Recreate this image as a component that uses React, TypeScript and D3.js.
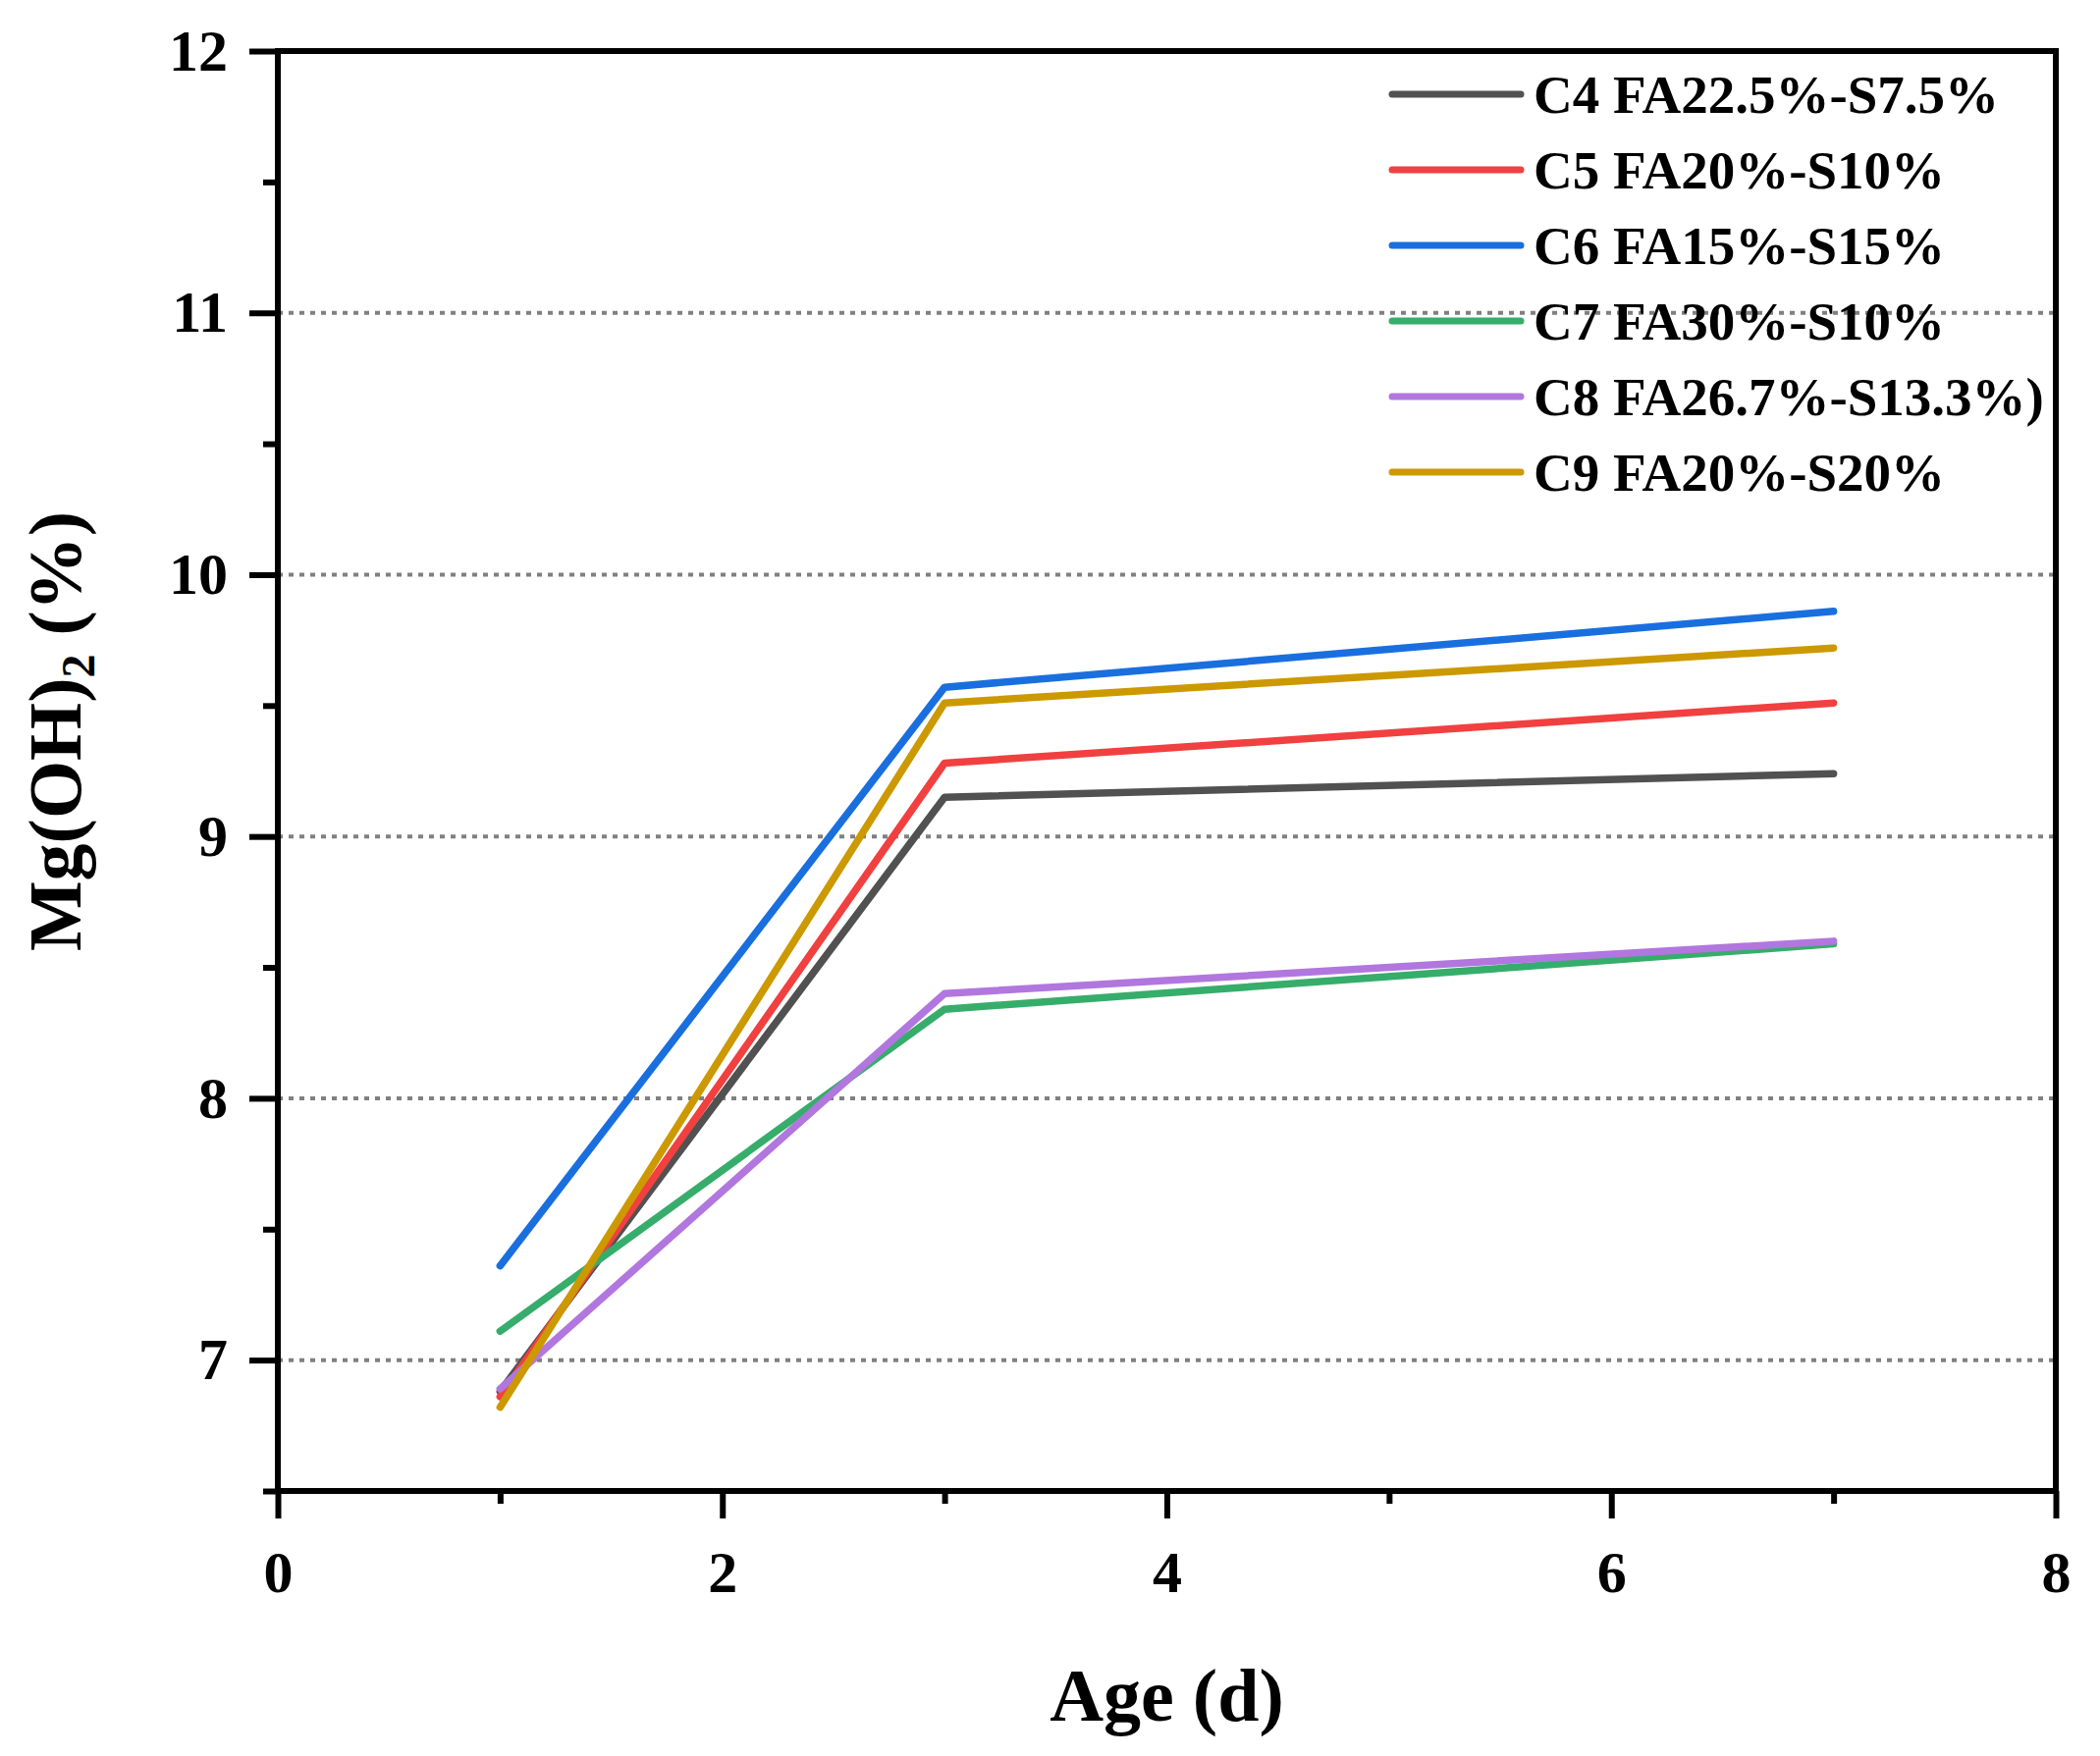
import { useEffect, useRef } from 'react'
import * as d3 from 'd3'

const ages = [1, 3, 7]

const c4 = [6.88, 9.15, 9.24]
const c5 = [6.86, 9.28, 9.51]
const c6 = [7.36, 9.57, 9.86]
const c7 = [7.11, 8.34, 8.59]
const c8 = [6.89, 8.4, 8.6]
const c9 = [6.82, 9.51, 9.72]

const seriesNames = [
    'C4 FA22.5%-S7.5%',
    'C5 FA20%-S10%',
    'C6 FA15%-S15%',
    'C7 FA30%-S10%',
    'C8 FA26.7%-S13.3%)',
    'C9 FA20%-S20%',
]
const seriesValues = [c4, c5, c6, c7, c8, c9]
const colors = ['#515151', '#F14040', '#1A6FDF', '#37AD6B', '#B177DE', '#CC9900']

const xMajor = [0, 2, 4, 6, 8]
const xMinor = [1, 3, 5, 7]
const yMajor = [7, 8, 9, 10, 11, 12]
const yMinor = [6.5, 7.5, 8.5, 9.5, 10.5, 11.5]
const gridValues = [7, 8, 9, 10, 11]

export default function App() {
    const svgRef = useRef<SVGSVGElement>(null)

    useEffect(() => {
        if (!svgRef.current) return
        const width = 2139
        const height = 1789
        const margin = { top: 52, right: 45, bottom: 270, left: 283 }
        const font = '"Liberation Serif", "Times New Roman", serif'

        const svg = d3.select(svgRef.current)
        svg.attr('width', width).attr('height', height)
        svg.selectAll('*').remove()

        svg.append('rect').attr('width', width).attr('height', height).attr('fill', '#fff')

        const x = d3.scaleLinear().domain([0, 8]).range([margin.left, width - margin.right])
        const y = d3.scaleLinear().domain([6.5, 12]).range([height - margin.bottom, margin.top])

        // dotted grid
        svg.append('g')
            .selectAll('line')
            .data(gridValues)
            .enter()
            .append('line')
            .attr('x1', x(0))
            .attr('x2', x(8))
            .attr('y1', d => y(d))
            .attr('y2', d => y(d))
            .attr('stroke', '#808080')
            .attr('stroke-width', 4)
            .attr('stroke-dasharray', '5,6')

        // minor ticks first, majors on top
        const xMinorAxis = d3.axisBottom(x).tickValues(xMinor).tickSize(13).tickFormat(() => '')
        const yMinorAxis = d3.axisLeft(y).tickValues(yMinor).tickSize(15).tickFormat(() => '')
        const xAxis = d3.axisBottom(x).tickValues(xMajor).tickSize(28).tickPadding(32).tickFormat(d3.format('d'))
        const yAxis = d3.axisLeft(y).tickValues(yMajor).tickSize(29).tickPadding(22).tickFormat(d3.format('d'))

        const gx0 = svg.append('g').attr('transform', `translate(0,${y(6.5)})`).call(xMinorAxis)
        const gy0 = svg.append('g').attr('transform', `translate(${x(0)},0)`).call(yMinorAxis)
        const gx = svg.append('g').attr('transform', `translate(0,${y(6.5)})`).call(xAxis)
        const gy = svg.append('g').attr('transform', `translate(${x(0)},0)`).call(yAxis)

        for (const g of [gx0, gy0, gx, gy]) {
            g.select('.domain').remove()
            g.selectAll('.tick line').attr('stroke', '#000').attr('stroke-width', 6)
            g.selectAll('text')
                .attr('font-family', font)
                .attr('font-weight', 'bold')
                .attr('font-size', 60)
                .attr('fill', '#000')
        }

        // frame
        svg.append('rect')
            .attr('x', x(0))
            .attr('y', y(12))
            .attr('width', x(8) - x(0))
            .attr('height', y(6.5) - y(12))
            .attr('fill', 'none')
            .attr('stroke', '#000')
            .attr('stroke-width', 6)

        const line = d3.line<number>()
            .x((_, i) => x(ages[i]))
            .y(d => y(d))

        seriesValues.forEach((vals, i) => {
            svg.append('path')
                .datum(vals)
                .attr('fill', 'none')
                .attr('stroke', colors[i])
                .attr('stroke-width', 7.5)
                .attr('stroke-linecap', 'round')
                .attr('stroke-linejoin', 'round')
                .attr('d', line)
        })

        // legend
        const legend = svg.append('g').attr('transform', 'translate(1418, 96)')
        seriesNames.forEach((name, i) => {
            const row = legend.append('g').attr('transform', `translate(0, ${i * 77})`)
            row.append('line')
                .attr('x1', 0)
                .attr('x2', 131)
                .attr('y1', 0)
                .attr('y2', 0)
                .attr('stroke', colors[i])
                .attr('stroke-width', 7)
                .attr('stroke-linecap', 'round')
            row.append('text')
                .attr('x', 144)
                .attr('y', 19)
                .attr('font-family', font)
                .attr('font-weight', 'bold')
                .attr('font-size', 55)
                .attr('fill', '#000')
                .text(name)
        })

        // axis titles
        svg.append('text')
            .attr('x', (x(0) + x(8)) / 2)
            .attr('y', 1753)
            .attr('text-anchor', 'middle')
            .attr('font-family', font)
            .attr('font-weight', 'bold')
            .attr('font-size', 76)
            .attr('fill', '#000')
            .text('Age (d)')

        const yTitle = svg.append('text')
            .attr('transform', 'translate(82, 745) rotate(-90)')
            .attr('text-anchor', 'middle')
            .attr('font-family', font)
            .attr('font-weight', 'bold')
            .attr('font-size', 76)
            .attr('fill', '#000')
        yTitle.append('tspan').text('Mg(OH)')
        yTitle.append('tspan').attr('font-size', 48).attr('dy', 14).text('2')
        yTitle.append('tspan').attr('dy', -14).text(' (%)')
    }, [])

    return <svg ref={svgRef} style={{ position: 'absolute', left: 0, top: 0, display: 'block' }} />
}
